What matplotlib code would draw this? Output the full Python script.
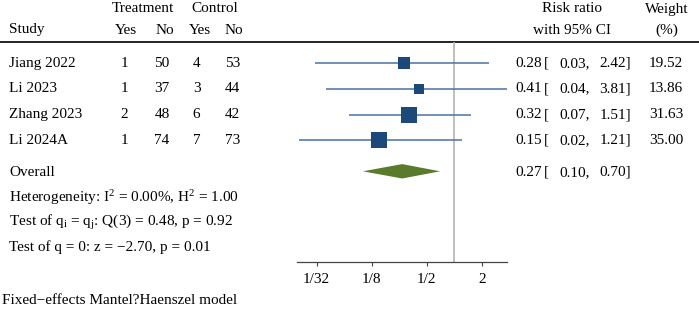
import numpy as np
import matplotlib
matplotlib.use("Agg")
import matplotlib.pyplot as plt
from matplotlib.patches import Polygon

plt.rcParams['font.family'] = ['Liberation Serif', 'DejaVu Serif']
plt.rcParams['mathtext.fontset'] = 'custom'
plt.rcParams['mathtext.rm'] = 'Liberation Serif'
plt.rcParams['mathtext.it'] = 'Liberation Serif:italic'

# ---- data ----
studies = ["Jiang 2022", "Li 2023", "Zhang 2023", "Li 2024A"]
t_yes = [1, 1, 2, 1]
t_no = [50, 37, 48, 74]
c_yes = [4, 3, 6, 7]
c_no = [53, 44, 42, 73]
rr = [0.28, 0.41, 0.32, 0.15]
ci_lo = [0.03, 0.04, 0.07, 0.02]
ci_hi = [2.42, 3.81, 1.51, 1.21]
weights = [19.52, 13.86, 31.63, 35.00]
overall_rr, overall_lo, overall_hi = 0.27, 0.10, 0.70
tick_vals = [1/32, 1/8, 1/2, 2]
tick_labels = ["1/32", "1/8", "1/2", "2"]

# ---- layout (pixels) ----
W, H = 699, 311
FS = 11
row_y = [63.3, 89.0, 114.7, 140.3]
overall_y = 171.3
rule_y = 41.5
axis_y = 262.3
ax_left, ax_right = 297, 507

fig = plt.figure(figsize=(W / 100, H / 100), dpi=100)
ax_t = fig.add_axes([0, 0, 1, 1])
ax_t.set_xlim(0, W)
ax_t.set_ylim(H, 0)
ax_t.axis('off')

def txt(x, y, s, ha='left', **kw):
    ax_t.text(x, y, s, ha=ha, va='center', fontsize=FS, color='black', **kw)

def ci_text(y, est, lo, hi):
    txt(541.5, y, f"{est:.2f}", ha='right')
    txt(544, y, "[")
    txt(590, y, f"{lo:.2f},", ha='right')
    txt(631, y, f"{hi:.2f}]", ha='right')

# headers
txt(142.5, 9, "Treatment", ha='center')
txt(215, 9, "Control", ha='center')
txt(9, 30, "Study")
head_x = [126, 164.5, 199.5, 233.5]
num_x = [124, 162, 196.5, 232.5]
for x, s in zip(head_x, ["Yes", "No", "Yes", "No"]):
    txt(x, 30, s, ha='center')
txt(572, 9, "Risk ratio", ha='center')
txt(572, 30, "with 95% CI", ha='center')
txt(667, 9, "Weight", ha='center')
txt(667, 30, "(%)", ha='center')
ax_t.plot([0, W], [rule_y, rule_y], color='black', lw=1.2, solid_capstyle='butt')

for i, y in enumerate(row_y):
    txt(9, y, studies[i])
    for x, v in zip(num_x, [t_yes[i], t_no[i], c_yes[i], c_no[i]]):
        txt(x, y, str(v), ha='center')
    ci_text(y, rr[i], ci_lo[i], ci_hi[i])
    txt(683, y, f"{weights[i]:.2f}", ha='right')

txt(9, 172.5, "Overall")
ci_text(172.5, overall_rr, overall_lo, overall_hi)
txt(9, 197.5, r"Heterogeneity: I$^2$ = 0.00%, H$^2$ = 1.00")
txt(9, 222.5, r"Test of q$_\mathrm{i}$ = q$_\mathrm{j}$: Q(3) = 0.48, p = 0.92")
txt(9, 247.5, "Test of q = 0: z = \u22122.70, p = 0.01")
txt(2, 301, "Fixed\u2212effects Mantel?Haenszel model")

# ---- forest axes ----
ax = fig.add_axes([ax_left / W, (H - axis_y) / H, (ax_right - ax_left) / W, (axis_y - rule_y) / H])
ax.patch.set_alpha(0)
ax.set_xscale('log', base=2)
px_per_log2 = 27.5
x1 = 454.2
ax.set_xlim(2 ** ((ax_left - x1) / px_per_log2), 2 ** ((ax_right - x1) / px_per_log2))
ax.set_ylim(axis_y, rule_y)
for s in ['top', 'right', 'left']:
    ax.spines[s].set_visible(False)
ax.spines['bottom'].set_color('#444444')
ax.spines['bottom'].set_linewidth(0.9)
ax.set_yticks([])
ax.set_xticks(tick_vals)
ax.set_xticklabels(tick_labels)
ax.xaxis.set_minor_locator(matplotlib.ticker.NullLocator())
ax.tick_params(axis='x', direction='out', length=3, width=0.8, color='#444444',
               labelsize=FS, pad=4.5)

ax.axvline(1, color='#b4b4b4', lw=1.2, zorder=1)

for i, y in enumerate(row_y):
    ax.plot([ci_lo[i], ci_hi[i]], [y, y], color='#4a72a0', lw=1.1, zorder=2,
            solid_capstyle='butt')
    side_pt = 2.7 * np.sqrt(weights[i]) * 0.72
    ax.plot([rr[i]], [y], marker='s', markersize=side_pt, color='#1b4a7a',
            markeredgewidth=0, zorder=3, linestyle='none')

dh = 7.2
diamond = Polygon([(overall_lo, overall_y), (overall_rr, overall_y - dh),
                   (overall_hi, overall_y), (overall_rr, overall_y + dh)],
                  closed=True, facecolor='#5a7a2c', edgecolor='none', zorder=3)
ax.add_patch(diamond)

fig.savefig("out.png", dpi=100)
